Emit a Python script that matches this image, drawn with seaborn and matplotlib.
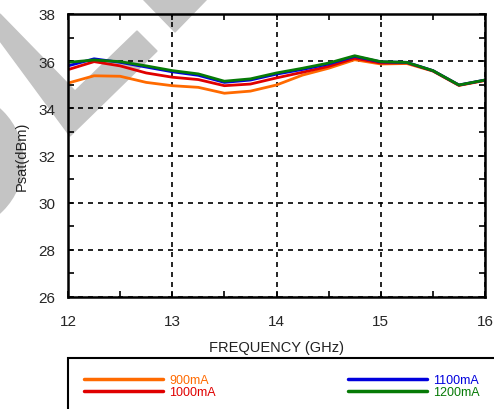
import numpy as np
import pandas as pd
import seaborn as sns
import matplotlib.pyplot as plt
from matplotlib.patches import Polygon, Ellipse, Rectangle
from matplotlib.ticker import MultipleLocator

freq = [12.0, 12.25, 12.5, 12.75, 13.0, 13.25, 13.5, 13.75, 14.0,
        14.25, 14.5, 14.75, 15.0, 15.25, 15.5, 15.75, 16.0]
psat_900 = [35.07, 35.38, 35.36, 35.10, 34.96, 34.89, 34.64, 34.73, 34.99,
            35.41, 35.70, 36.06, 35.88, 35.90, 35.58, 34.97, 35.18]
psat_1000 = [35.64, 35.98, 35.80, 35.50, 35.32, 35.22, 34.96, 35.03, 35.29,
             35.53, 35.78, 36.12, 35.92, 35.93, 35.59, 34.98, 35.19]
psat_1100 = [35.80, 36.10, 35.95, 35.75, 35.55, 35.40, 35.10, 35.20, 35.45,
             35.65, 35.88, 36.20, 35.97, 35.95, 35.60, 34.99, 35.20]
psat_1200 = [35.95, 36.05, 35.98, 35.80, 35.60, 35.46, 35.15, 35.25, 35.50,
             35.70, 35.92, 36.23, 35.98, 35.95, 35.60, 34.99, 35.20]
labels = ["900mA", "1000mA", "1100mA", "1200mA"]
colors = ["#ff6a00", "#e00000", "#0000dd", "#067a06"]

df = pd.concat([
    pd.DataFrame({"freq": freq, "psat": vals, "bias": lab})
    for vals, lab in zip([psat_900, psat_1000, psat_1100, psat_1200], labels)
])

sns.set_style("ticks")
plt.rcParams["font.family"] = ["Liberation Sans", "DejaVu Sans"]

W, H = 494, 410
fig = plt.figure(figsize=(W / 100, H / 100), dpi=100)
ax = fig.add_axes([68 / W, (H - 298) / H, (485 - 68) / W, (298 - 15) / H])
ax.set_facecolor("none")

def fx(px):
    return px / W

def fy(py):
    return (H - py) / H

# grey watermark behind the plot
wm = "#c4c4c4"
shapes = [
    [(0, 15), (0, 42), (70, 137), (157, 52), (137, 32), (75, 92)],
    [(143, 0), (207, 0), (175, 33)],
]
for pts in shapes:
    fig.patches.append(Polygon([(fx(a), fy(b)) for a, b in pts], closed=True,
                               transform=fig.transFigure, color=wm, zorder=-5))
fig.patches.append(Ellipse((fx(-47), fy(162)), 140 / W, 140 / H,
                           transform=fig.transFigure, color=wm, zorder=-5))

sns.lineplot(data=df, x="freq", y="psat", hue="bias", palette=colors,
             linewidth=2.0, ax=ax, legend=True)

ax.set_xlim(12, 16)
ax.set_ylim(26, 38)
ax.xaxis.set_major_locator(MultipleLocator(1))
ax.xaxis.set_minor_locator(MultipleLocator(0.5))
ax.yaxis.set_major_locator(MultipleLocator(2))
ax.yaxis.set_minor_locator(MultipleLocator(1))
ax.tick_params(which="both", direction="in", top=True, right=True,
               width=1.2, color="black", labelsize=11)
ax.tick_params(which="major", length=4)
ax.tick_params(axis="x", which="major", pad=12)
ax.tick_params(axis="y", which="major", pad=9)
ax.tick_params(which="minor", length=4)
ax.grid(True, which="major", color="black", linestyle=(0, (3, 3)), linewidth=1.2)
for s in ax.spines.values():
    s.set_linewidth(1.8)
    s.set_color("black")

ax.set_xlabel("FREQUENCY (GHz)", fontsize=10.5, color="#222222", labelpad=9)
ax.set_ylabel("Psat(dBm)", fontsize=10.5, color="#222222", labelpad=7)

# legend box at the bottom running off the edge
fig.patches.append(Rectangle((fx(68), fy(430)), 450 / W, 71 / H,
                             transform=fig.transFigure, fill=False,
                             edgecolor="black", linewidth=1.5, clip_on=False))
leg = ax.legend(loc="upper left", bbox_to_anchor=(fx(84), fy(375)),
                bbox_transform=fig.transFigure, ncol=2, frameon=False,
                fontsize=9, handlelength=6.3, handletextpad=0.5,
                columnspacing=10.6, labelspacing=0.0, borderaxespad=0,
                borderpad=0, labelcolor="linecolor")
for h in leg.get_lines():
    h.set_linewidth(2.5)

fig.savefig("out.png", dpi=100)
